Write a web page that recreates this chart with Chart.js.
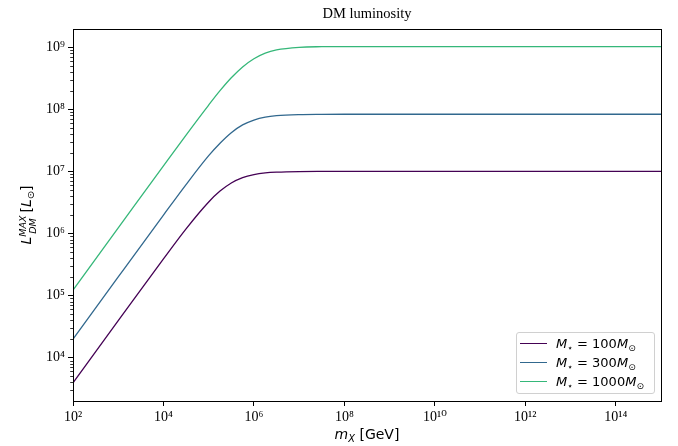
<!DOCTYPE html>
<html><head><meta charset="utf-8">
<script src="https://cdn.jsdelivr.net/npm/chart.js@4.4.1/dist/chart.umd.min.js"></script>
<style>
html,body{margin:0;padding:0;background:#fff;}
#wrap{position:relative;width:678px;height:446px;overflow:hidden;}
#c{position:absolute;left:0;top:0;}
#title{position:absolute;left:73px;width:588px;top:5px;text-align:center;font:14.5px "Liberation Serif","DejaVu Serif",serif;color:#000;}
#xlab{position:absolute;left:267px;width:200px;top:426px;height:18px;line-height:18px;text-align:center;white-space:nowrap;font:14px "DejaVu Sans",sans-serif;color:#000;}
#ylab{position:absolute;left:-22px;width:100px;top:205px;height:20px;line-height:20px;text-align:center;transform:rotate(-90deg);transform-origin:50px 10px;white-space:nowrap;font:14px "DejaVu Sans",sans-serif;color:#000;}
.st{display:inline-flex;flex-direction:column;font-size:9.5px;line-height:9.5px;vertical-align:5px;margin-right:3px;font-style:italic;}
sub{font-size:70%;vertical-align:-3px;line-height:0;}
#legend{position:absolute;left:516px;top:332px;width:137px;height:60px;border:1px solid #d0d0d0;border-radius:3px;background:rgba(255,255,255,0.8);font:13px "DejaVu Sans",sans-serif;color:#000;}
.row{position:absolute;left:0;height:19px;width:137px;}
.hl{position:absolute;left:3px;width:27px;height:1px;top:9px;}
.tx{position:absolute;left:39px;top:0;line-height:19px;white-space:nowrap;}
</style>
</head><body>
<div id="wrap">
<canvas id="c" width="678" height="446"></canvas>
<div id="title">DM luminosity</div>
<div id="xlab"><i>m</i><sub><i>X</i></sub> [GeV]</div>
<div id="ylab"><i>L</i><span class="st"><span>MAX</span><span>DM</span></span>[<i>L</i><sub>⊙</sub>]</div>
<div id="legend"></div>
</div>
<script>
// ---- data ----
const mX = [1e2, 1e3, 1e4, 3.16e4, 1e5, 1.78e5, 3.16e5, 5.62e5, 1e6, 1.78e6, 3.16e6, 1e7, 3.16e7, 1e8, 1e9, 1e10, 1e11, 1e12, 1e13, 1e14, 1e15];
const L100 = [3.95e3, 3.95e4, 3.90e5, 1.19e6, 3.22e6, 4.81e6, 6.50e6, 7.93e6, 8.87e6, 9.44e6, 9.72e6, 9.94e6, 9.98e6, 1.0e7, 1.0e7, 1.0e7, 1.0e7, 1.0e7, 1.0e7, 1.0e7, 1.0e7];
const L300 = [2.0e4, 2.0e5, 1.98e6, 6.14e6, 1.79e7, 2.84e7, 4.20e7, 5.60e7, 6.71e7, 7.48e7, 7.89e7, 8.22e7, 8.30e7, 8.32e7, 8.32e7, 8.32e7, 8.32e7, 8.32e7, 8.32e7, 8.32e7, 8.32e7];
const L1000 = [1.23e5, 1.23e6, 1.23e7, 3.85e7, 1.17e8, 1.99e8, 3.21e8, 4.81e8, 6.52e8, 8.04e8, 9.04e8, 9.94e8, 1.017e9, 1.023e9, 1.023e9, 1.023e9, 1.023e9, 1.023e9, 1.023e9, 1.023e9, 1.023e9];
const starMasses = ['100', '300', '1000'];
const xTickValues = [1e2, 1e4, 1e6, 1e8, 1e10, 1e12, 1e14];
const xTickLabels = ['10²', '10⁴', '10⁶', '10⁸', '10¹⁰', '10¹²', '10¹⁴'];
const yTickValues = [1e4, 1e5, 1e6, 1e7, 1e8, 1e9];
const yTickLabels = ['10⁴', '10⁵', '10⁶', '10⁷', '10⁸', '10⁹'];

const series = [L100, L300, L1000];
const lineColors = ['#440154', '#31688e', '#35b779'];

const frame = {
  id: 'frame',
  afterDraw(chart) {
    const {ctx, chartArea: a, scales} = chart;
    ctx.save();
    ctx.strokeStyle = '#000';
    ctx.lineWidth = 1;
    ctx.strokeRect(Math.round(a.left) + 0.5, Math.round(a.top) + 0.5, Math.round(a.right - a.left), Math.round(a.bottom - a.top));
    // minor y ticks
    const ys = scales.y;
    ctx.lineWidth = 0.8;
    ctx.beginPath();
    for (let k = 3; k <= 9; k++) {
      for (let m = 2; m <= 9; m++) {
        const v = m * Math.pow(10, k);
        if (v < ys.min || v > ys.max) continue;
        const p = Math.round(ys.getPixelForValue(v)) + 0.5;
        ctx.moveTo(a.left - 2.8, p);
        ctx.lineTo(a.left, p);
      }
    }
    ctx.stroke();
    ctx.restore();
  }
};

const tickFont = {family: '"Liberation Serif", "DejaVu Serif", serif', size: 14};

const chart = new Chart(document.getElementById('c'), {
  type: 'line',
  data: {
    datasets: series.map((s, i) => ({
      label: 'M⋆ = ' + starMasses[i] + 'M⊙',
      data: mX.map((x, j) => ({x: x, y: s[j]})),
      borderColor: lineColors[i],
      backgroundColor: lineColors[i],
      borderWidth: 1.3,
      pointRadius: 0,
      fill: false,
      cubicInterpolationMode: 'monotone'
    }))
  },
  options: {
    responsive: false,
    animation: false,
    devicePixelRatio: 1,
    layout: {padding: {top: 29, right: 17, left: 0, bottom: 0}},
    plugins: {legend: {display: false}, title: {display: false}, tooltip: {enabled: false}},
    scales: {
      x: {
        type: 'logarithmic', min: 1e2, max: 1e15,
        afterBuildTicks: s => { s.ticks = xTickValues.map(v => ({value: v})); },
        afterFit: s => { s.height = 45; },
        ticks: {autoSkip: false, maxRotation: 0, minRotation: 0, padding: 3, color: '#000', font: tickFont,
          callback: (v, i) => xTickLabels[i]},
        grid: {drawOnChartArea: false, drawTicks: true, tickLength: 5, color: '#000', lineWidth: 1},
        border: {display: true, color: '#000', width: 1}
      },
      y: {
        type: 'logarithmic', min: 2010, max: 1.96e9,
        afterBuildTicks: s => { s.ticks = yTickValues.map(v => ({value: v})); },
        afterFit: s => { s.width = 73; },
        ticks: {autoSkip: false, padding: 3, color: '#000', font: tickFont,
          callback: (v, i) => yTickLabels[i]},
        grid: {drawOnChartArea: false, drawTicks: true, tickLength: 5, color: '#000', lineWidth: 1},
        border: {display: true, color: '#000', width: 1}
      }
    }
  },
  plugins: [frame]
});

// HTML legend built from the chart datasets
const lg = document.getElementById('legend');
chart.data.datasets.forEach((d, i) => {
  const row = document.createElement('div');
  row.className = 'row';
  row.style.top = Math.round(1 + i * 18.8) + 'px';
  const hl = document.createElement('div');
  hl.className = 'hl';
  hl.style.background = d.borderColor;
  const tx = document.createElement('div');
  tx.className = 'tx';
  tx.innerHTML = '<i>M</i><sub>⋆</sub> = ' + starMasses[i] + '<i>M</i><sub>⊙</sub>';
  row.appendChild(hl); row.appendChild(tx);
  lg.appendChild(row);
});
</script>
</body></html>
